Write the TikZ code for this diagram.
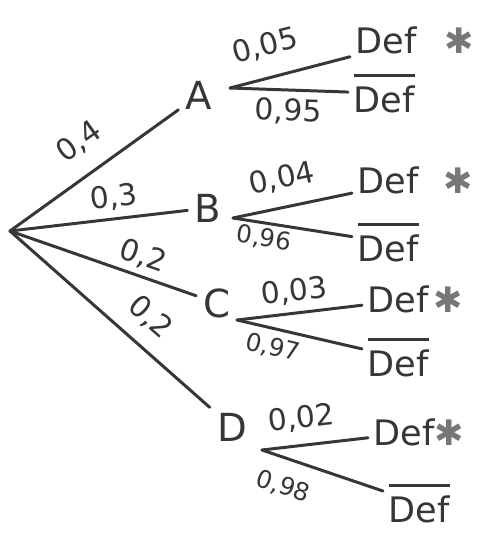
\documentclass[tikz,border=0pt]{standalone}
\usepackage{fontspec}
\setmainfont{DejaVu Sans}
\usetikzlibrary{positioning}
\usepackage{xcolor}

\definecolor{ink}{HTML}{363636}
\definecolor{stargray}{HTML}{777777}
\newcommand{\defyes}[1][8pt]{Def\hspace{#1}{\color{stargray}✱}}
\newcommand{\defno}{\vbox{\hrule height 1.4pt \kern 5pt \hbox{Def}}}

\begin{document}
\begin{tikzpicture}[
  x=0.02cm, y=-0.02cm,
  evt/.style={
    text=ink,
    font=\fontsize{22}{24}\selectfont,
    inner sep=4pt
  },
  res/.style={
    text=ink,
    font=\fontsize{20}{22}\selectfont,
    inner sep=3pt,
    anchor=base west
  },
  prob/.style={text=ink, font=\fontsize{17}{19}\selectfont, inner sep=1pt, sloped},
  tiny/.style={prob, font=\fontsize{14}{16}\selectfont},
  br/.style={draw=ink, line width=1.7pt, line cap=round}
]
\useasboundingbox (0,0) rectangle (484,549);

% root and the four events
\coordinate (o) at (10,231);
\node[evt] (a) at (199,95) {A};
\node[evt] (b) at (208,208) {B};
\node[evt] (c) at (217,303) {C};
\node[evt] (d) at (232,427) {D};

% where the second level splits
\coordinate (as) at (230,88);
\coordinate (bs) at (233,218);
\coordinate (cs) at (237,320);
\coordinate (ds) at (262,450);

% outcomes
\node[res] (ay) at (350,53) {\defyes[16pt]};
\node[res] (an) at (348,112) {\defno};
\node[res] (by) at (352,193) {\defyes[14pt]};
\node[res] (bn) at (352,261) {\defno};
\node[res] (cy) at (362,312) {\defyes[3pt]};
\node[res] (cn) at (362,376) {\defno};
\node[res] (dy) at (368,445) {\defyes[0pt]};
\node[res] (dn) at (383,522) {\defno};

\draw[br] (o) -- node[prob, above=9pt, pos=0.52] {0,4} (a);
\draw[br] (o) -- node[prob, above=3pt, pos=0.6] {0,3} (b);
\draw[br] (o) -- node[prob, above=2pt, pos=0.68] {0,2} (c);
\draw[br] (o) -- node[prob, above=7pt, pos=0.61] {0,2} (d);

\draw[br] (as) -- node[prob, above=9pt, pos=0.36] {0,05} (ay);
\draw[br] (as) -- node[prob, below=3pt, pos=0.5] {0,95} (an);
\draw[br] (bs) -- node[prob, above=7pt, pos=0.46] {0,04} (by);
\draw[br] (bs) -- node[tiny, below=1pt, pos=0.28] {0,96} (bn);
\draw[br] (cs) -- node[prob, above=3pt, pos=0.48] {0,03} (cy);
\draw[br] (cs) -- node[tiny, below=3pt, pos=0.32] {0,97} (cn);
\draw[br] (ds) -- node[prob, above=6pt, pos=0.4] {0,02} (dy);
\draw[br] (ds) -- node[tiny, below=8pt, pos=0.25] {0,98} (dn);

\end{tikzpicture}
\end{document}
